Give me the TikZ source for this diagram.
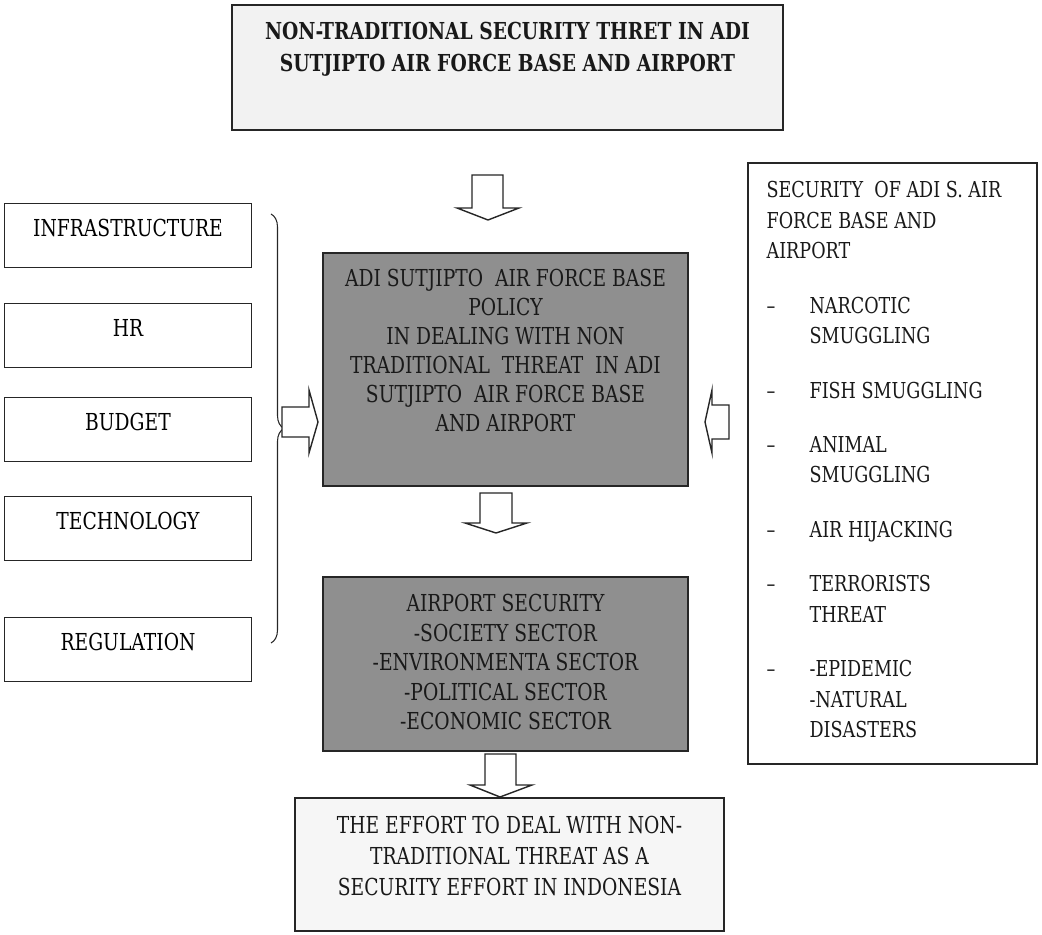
\documentclass[tikz,border=0pt]{standalone}
\usepackage{fontspec}
\setmainfont{DejaVu Serif}[FakeStretch=0.8]
\usetikzlibrary{positioning,decorations.pathreplacing}
\definecolor{policygray}{HTML}{8F8F8F}
\definecolor{palegray}{HTML}{F2F2F2}
\tikzstyle{frame} = [rectangle, draw=black!85, line width=0.9pt, inner sep=0]
\tikzstyle{factor} = [rectangle, draw=black!85, line width=0.8pt, minimum width=4.94cm, minimum height=1.28cm, text height=0.34cm, text depth=0.3cm, font=\fontsize{13.3}{16.5}\selectfont]
\tikzstyle{boxtext} = [align=center, inner sep=0, text=black!90, font=\fontsize{13.3}{16.5}\selectfont]
\tikzstyle{hollow} = [draw=black!85, line width=0.8pt, fill=white, line join=miter]
\newcommand{\threatdash}{\makebox[0.86cm][l]{--}}
\newcommand{\threatskip}{\hspace*{0.86cm}}

\begin{document}
\begin{tikzpicture}[x=0.02cm, y=-0.02cm]
    \useasboundingbox (0,0) rectangle (1042,935);
    % main flow
    \node (threat) [frame, fill=palegray, line width=1.1pt, minimum width=11.02cm, minimum height=2.5cm] at (507.5,67.5) {};
    \node (threat-t) [boxtext, font=\bfseries\fontsize{13.3}{18.2}\selectfont, below=0.36cm of threat.north] {NON-TRADITIONAL SECURITY THRET IN ADI\\SUTJIPTO AIR FORCE BASE AND AIRPORT};
    \node (policy) [frame, fill=policygray, minimum width=7.3cm, minimum height=4.66cm] at (505.5,369.5) {};
    \node (policy-t) [boxtext, below=0.34cm of policy.north] {ADI SUTJIPTO~~AIR FORCE BASE\\POLICY\\IN DEALING WITH NON\\TRADITIONAL~~THREAT~~IN ADI\\SUTJIPTO~~AIR FORCE BASE\\AND AIRPORT};
    \node (airsec) [frame, fill=policygray, minimum width=7.3cm, minimum height=3.48cm] at (505.5,664) {};
    \node (airsec-t) [boxtext, font=\fontsize{13.3}{16.8}\selectfont, below=0.36cm of airsec.north] {AIRPORT SECURITY\\-SOCIETY SECTOR\\-ENVIRONMENTA SECTOR\\-POLITICAL SECTOR\\-ECONOMIC SECTOR};
    \node (effort) [frame, fill=palegray!70, minimum width=8.58cm, minimum height=2.66cm] at (509.5,864.5) {};
    \node (effort-t) [boxtext, font=\fontsize{13.3}{17.4}\selectfont, below=0.38cm of effort.north] {THE EFFORT TO DEAL WITH NON-\\TRADITIONAL THREAT AS A\\SECURITY EFFORT IN INDONESIA};
    % factors on the left
    \node (infra) [factor] at (128,235.5) {INFRASTRUCTURE};
    \node (hr) [factor] at (128,335.5) {HR};
    \node (budget) [factor] at (128,429.5) {BUDGET};
    \node (tech) [factor] at (128,528.5) {TECHNOLOGY};
    \node (reg) [factor] at (128,649.5) {REGULATION};
    \draw [line width=0.6pt, draw=black!85, decorate, decoration={brace, amplitude=0.26cm}] (271,214) -- (271,643);
    % threats on the right
    \node (threats) [frame, fill=white, minimum width=5.78cm, minimum height=12.02cm] at (892.5,463.5) {};
    \node (threats-t) [align=left, inner sep=0, text=black!90, font=\fontsize{12.5}{17.3}\selectfont, below right=0.38cm and 0.38cm of threats.north west] {SECURITY~~OF ADI S. AIR\\FORCE BASE AND\\AIRPORT\\[13.7pt]
        \threatdash NARCOTIC\\\threatskip SMUGGLING\\[13.7pt]
        \threatdash FISH SMUGGLING\\[13.7pt]
        \threatdash ANIMAL\\\threatskip SMUGGLING\\[13.7pt]
        \threatdash AIR HIJACKING\\[13.7pt]
        \threatdash TERRORISTS\\\threatskip THREAT\\[13.7pt]
        \threatdash -EPIDEMIC\\\threatskip -NATURAL\\\threatskip DISASTERS};
    % block arrows
    \draw [hollow] (472,175) -- (503,175) -- (503,208) -- (519,208) -- (488,220) -- (457,208) -- (472,208) -- cycle;
    \draw [hollow] (480,493) -- (512,493) -- (512,523) -- (527,523) -- (496,533) -- (465,523) -- (480,523) -- cycle;
    \draw [hollow] (485,754) -- (516,754) -- (516,785) -- (532,785) -- (500,797) -- (470,785) -- (485,785) -- cycle;
    \draw [hollow] (282,407) -- (309,407) -- (309,390) -- (318,422) -- (309,453) -- (309,437) -- (282,437) -- cycle;
    \draw [hollow] (729,405) -- (712,405) -- (712,390) -- (705,422) -- (712,453) -- (712,439) -- (729,439) -- cycle;
\end{tikzpicture}
\end{document}
